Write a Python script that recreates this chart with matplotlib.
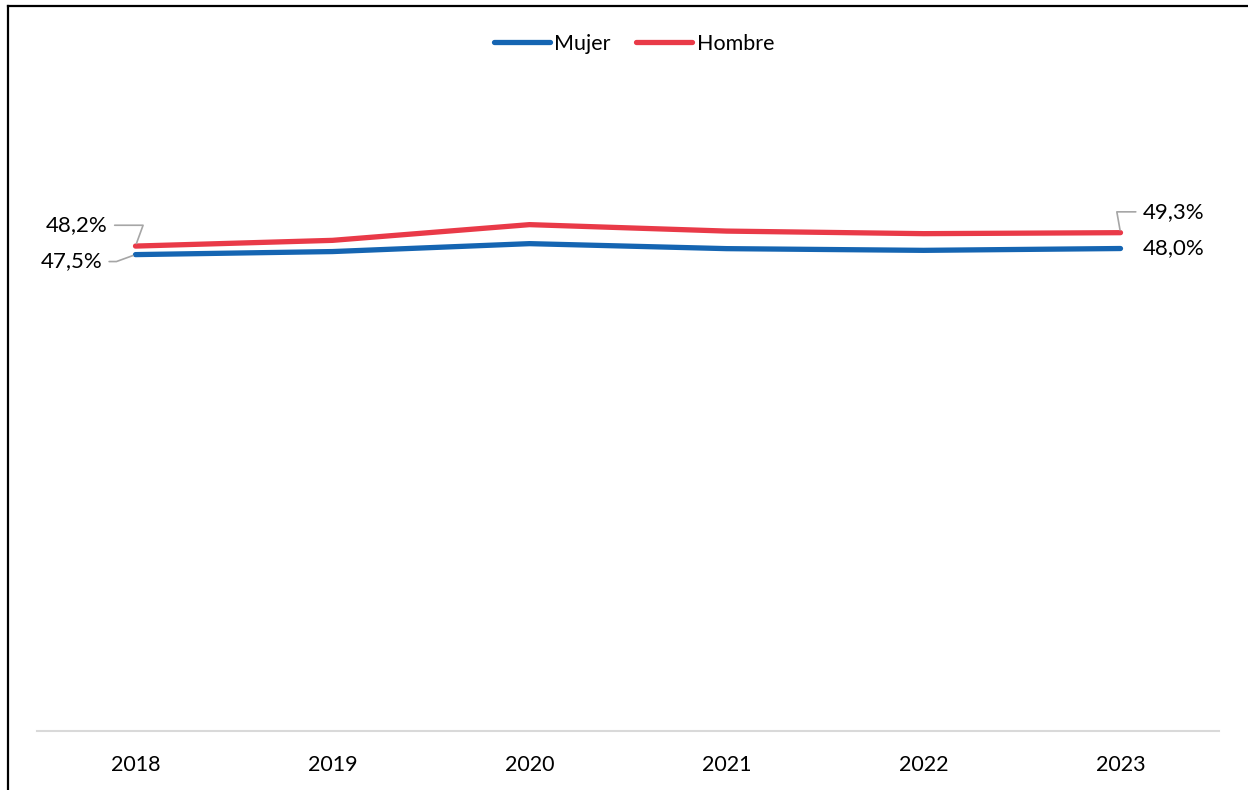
import matplotlib.pyplot as plt
from matplotlib.lines import Line2D

years = ['2018', '2019', '2020', '2021', '2022', '2023']
mujer = [47.5, 47.75, 48.4, 47.99, 47.85, 48.0]
hombre = [48.2, 48.67, 49.96, 49.43, 49.22, 49.3]

BLUE = '#1565B2'
RED = '#E93A48'
GREY = '#A6A6A6'

plt.rcParams['font.family'] = ['Lato', 'DejaVu Sans']

fig = plt.figure(figsize=(12.48, 7.9), dpi=100)
ax = fig.add_axes([37 / 1248, 1 - 731 / 790, (1219 - 37) / 1248, (731 - 95) / 790])

x = list(range(len(years)))
ax.plot(x, mujer, color=BLUE, lw=3.8, solid_capstyle='round', label='Mujer')
ax.plot(x, hombre, color=RED, lw=3.8, solid_capstyle='round', label='Hombre')

ax.set_xlim(-0.5, len(years) - 0.5)
ax.set_ylim(8.4, 60.6)
ax.set_xticks(x)
ax.set_xticklabels(years, fontsize=15.5)
ax.set_yticks([])
ax.tick_params(axis='x', length=0, pad=17)
for s in ['left', 'right', 'top']:
    ax.spines[s].set_visible(False)
ax.spines['bottom'].set_color('#D9D9D9')
ax.spines['bottom'].set_linewidth(1.5)


def label(i, vals, text, dx, dy, ha, angle=None):
    props = None
    if angle is not None:
        props = dict(arrowstyle='-', color=GREY, lw=1.2, shrinkA=3, shrinkB=2,
                     connectionstyle=f'angle,angleA=0,angleB={angle},rad=0')
    ax.annotate(text, xy=(i, vals[i]), xytext=(dx, dy), textcoords='offset points',
                ha=ha, va='center', fontsize=16, arrowprops=props)


last = len(years) - 1
label(0, hombre, '48,2%', -20, 15, 'right', angle=70)
label(0, mujer, '47,5%', -24, -5, 'right', angle=20)
label(last, hombre, '49,3%', 16, 15, 'left', angle=100)
label(last, mujer, '48,0%', 16, 0, 'left')

handles = [Line2D([], [], color=BLUE, lw=3.8, solid_capstyle='round'),
           Line2D([], [], color=RED, lw=3.8, solid_capstyle='round')]
fig.legend(handles, ['Mujer', 'Hombre'], loc='center', bbox_to_anchor=(0.508, 1 - 44 / 790),
           ncol=2, frameon=False, fontsize=15.5, handlelength=2.6, handletextpad=0.2,
           columnspacing=1.2)

# outer frame (left and top edges)
fig.add_artist(Line2D([8 / 1248, 8 / 1248], [0, 1 - 6 / 790], color='black', lw=1.6,
                      transform=fig.transFigure))
fig.add_artist(Line2D([8 / 1248, 1], [1 - 6 / 790, 1 - 6 / 790], color='black', lw=1.6,
                      transform=fig.transFigure))

fig.savefig('out.png', dpi=100)
